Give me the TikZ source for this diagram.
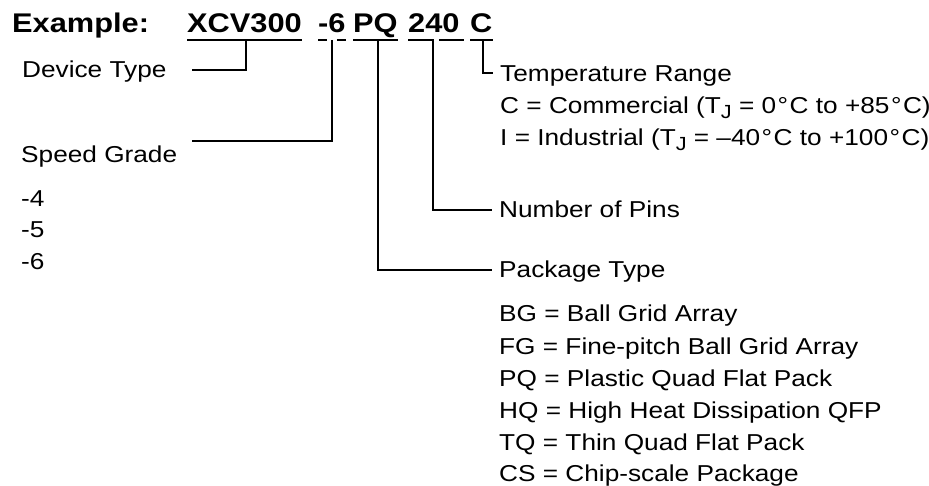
\documentclass[tikz,border=0pt]{standalone}
\usepackage{fontspec}
\setmainfont{Liberation Sans}[FakeStretch=1.14]
\newcommand{\tj}{T\raisebox{-5pt}{\fontsize{19}{19}\selectfont J}}
\newcommand{\dg}{\kern1.5pt°\kern1.5pt}
\begin{document}
\begin{tikzpicture}[x=1pt,y=-1pt,
  lbl/.style={anchor=base west, inner sep=0pt, font=\fontsize{23}{23}\selectfont},
  code/.style={anchor=base west, inner sep=0pt, font=\fontsize{27}{27}\selectfont\bfseries},
  wire/.style={line width=2pt, line cap=butt, line join=miter}]
\useasboundingbox (0,0) rectangle (929,486);
% part number
\node[code] (ex) at (12,33) {Example:};
\node[code] (xcv) at (187,33) {XCV300};
\node[code] (sg) at (318,33) {-6};
\node[code] (pq) at (353,33) {PQ};
\node[code] (np) at (408,33) {240};
\node[code] (tr) at (470,33) {C};
% underlines
\draw[wire] ([yshift=-7pt]xcv.base west) -- ([yshift=-7pt]xcv.base east);
\draw[wire] ([yshift=-7pt]sg.base west) -- ([yshift=-7pt,xshift=9pt]sg.base west);
\draw[wire] ([yshift=-7pt,xshift=-9pt]sg.base east) -- ([yshift=-7pt]sg.base east);
\draw[wire] ([yshift=-7pt]pq.base west) -- ([yshift=-7pt]pq.base east);
\draw[wire] ([yshift=-7pt]np.base west) -- ([yshift=-7pt,xshift=26pt]np.base west);
\draw[wire] ([yshift=-7pt,xshift=-21pt]np.base east) -- ([yshift=-7pt,xshift=4pt]np.base east);
\draw[wire] ([yshift=-7pt]tr.base west) -- ([yshift=-7pt]tr.base east);
% labels
\node[lbl] (dev) at (22,78) {Device Type};
\node[lbl] (spd) at (21,163) {Speed Grade};
\node[lbl] (s4) at (21,207) {-4};
\node[lbl] (s5) at (21,238) {-5};
\node[lbl] (s6) at (21,270) {-6};
\node[lbl] (temp) at (500,82) {Temperature Range};
\node[lbl] (com) at (500,114) {C = Commercial (\tj{} = 0\dg C to +85\dg C)};
\node[lbl] (ind) at (500,146) {I = Industrial (\tj{} = –40\dg C to +100\dg C)};
\node[lbl] (pins) at (499,218) {Number of Pins};
\node[lbl] (pkg) at (499,278) {Package Type};
\node[lbl] (bg) at (499,322) {BG = Ball Grid Array};
\node[lbl] (fg) at (499,354) {FG = Fine-pitch Ball Grid Array};
\node[lbl] (pqt) at (499,386) {PQ = Plastic Quad Flat Pack};
\node[lbl] (hq) at (499,418) {HQ = High Heat Dissipation QFP};
\node[lbl] (tq) at (499,450) {TQ = Thin Quad Flat Pack};
\node[lbl] (cs) at (499,481) {CS = Chip-scale Package};
% connector ends
\coordinate (xcvTap) at (246,40);
\coordinate (sgTap) at (332,40);
\coordinate (pqTap) at (378,40);
\coordinate (npTap) at (433,40);
\coordinate (trTap) at (483,40);
\coordinate (devEnd) at (192,70);
\coordinate (spdEnd) at (192,141);
\coordinate (pkgEnd) at (492,270);
\coordinate (pinsEnd) at (492,210);
\coordinate (tempEnd) at (493,73);
\draw[wire] (xcvTap) |- (devEnd);
\draw[wire] (sgTap) |- (spdEnd);
\draw[wire] (pqTap) |- (pkgEnd);
\draw[wire] (npTap) |- (pinsEnd);
\draw[wire] (trTap) |- (tempEnd);
\end{tikzpicture}
\end{document}
